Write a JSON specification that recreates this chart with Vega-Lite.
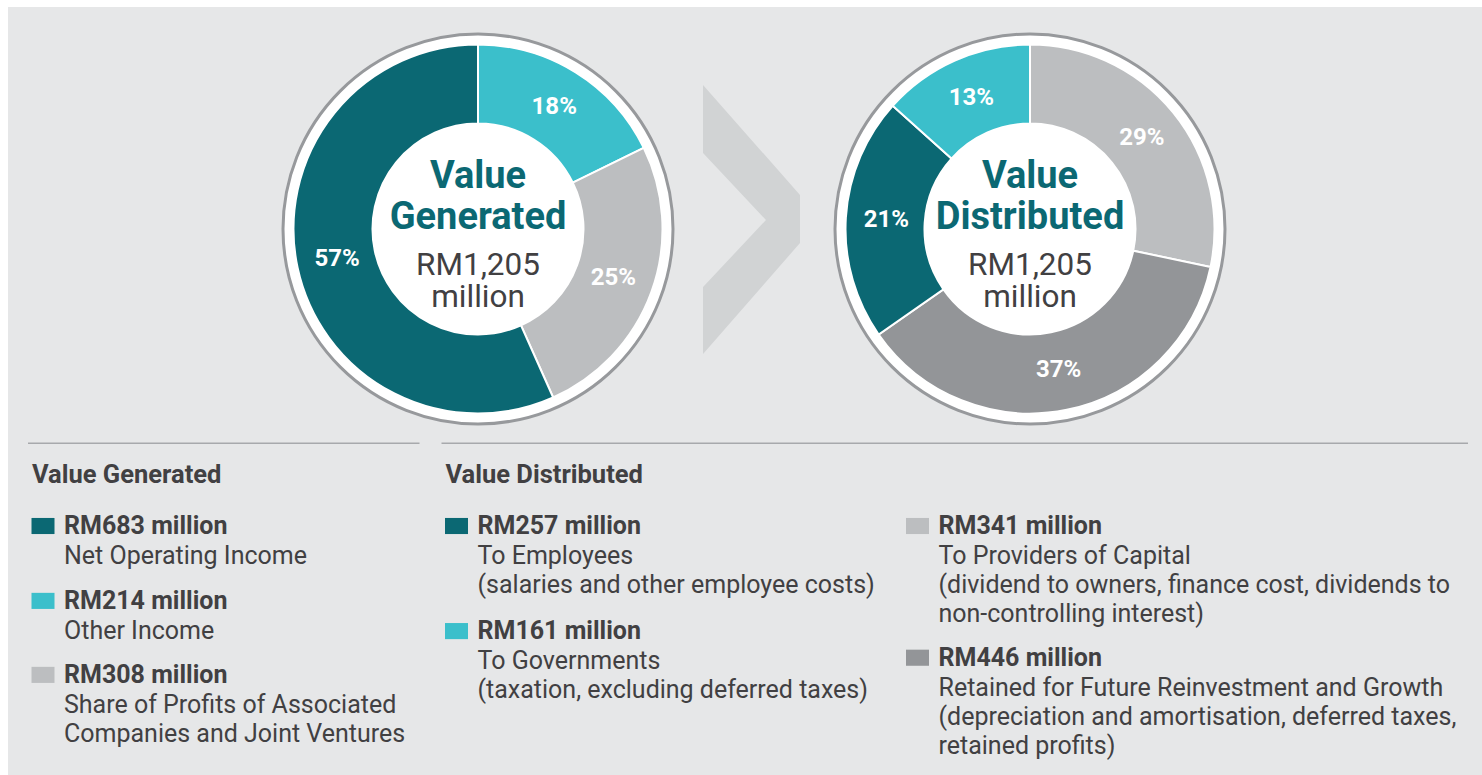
{
  "$schema": "https://vega.github.io/schema/vega-lite/v6.json",
  "width": 1482,
  "height": 775,
  "autosize": {"type": "fit", "contains": "padding"},
  "padding": {"left": 8, "top": 7, "right": 0, "bottom": 0},
  "background": "#ffffff",
  "config": {
    "view": {"fill": "#e6e7e8", "stroke": null},
    "font": "Roboto",
    "text": {"font": "Roboto"}
  },
  "datasets": {
    "segments": [
      {"chart": "Value Generated", "category": "Other Income", "value": 214, "ord": 1, "label": "18%"},
      {"chart": "Value Generated", "category": "Share of Profits of Associated Companies and Joint Ventures", "value": 308, "ord": 2, "label": "25%"},
      {"chart": "Value Generated", "category": "Net Operating Income", "value": 683, "ord": 3, "label": "57%"},
      {"chart": "Value Distributed", "category": "To Providers of Capital", "value": 341, "ord": 1, "label": "29%"},
      {"chart": "Value Distributed", "category": "Retained for Future Reinvestment and Growth", "value": 446, "ord": 2, "label": "37%"},
      {"chart": "Value Distributed", "category": "To Employees", "value": 257, "ord": 3, "label": "21%"},
      {"chart": "Value Distributed", "category": "To Governments", "value": 161, "ord": 4, "label": "13%"}
    ],
    "centers": [
      {"chart": "Value Generated", "title": "Value\nGenerated", "amount": "RM1,205\nmillion"},
      {"chart": "Value Distributed", "title": "Value\nDistributed", "amount": "RM1,205\nmillion"}
    ],
    "arrow": [{"chart": "arrow"}],
    "items": [
      {"column": 1, "line": 0, "category": "Net Operating Income", "amount": "RM683 million", "desc": "Net Operating Income"},
      {"column": 1, "line": 2.53, "category": "Other Income", "amount": "RM214 million", "desc": "Other Income"},
      {"column": 1, "line": 5.03, "category": "Share of Profits of Associated Companies and Joint Ventures", "amount": "RM308 million", "desc": "Share of Profits of Associated\nCompanies and Joint Ventures"},
      {"column": 2, "line": 0, "category": "To Employees", "amount": "RM257 million", "desc": "To Employees\n(salaries and other employee costs)"},
      {"column": 2, "line": 3.55, "category": "To Governments", "amount": "RM161 million", "desc": "To Governments\n(taxation, excluding deferred taxes)"},
      {"column": 3, "line": 0, "category": "To Providers of Capital", "amount": "RM341 million", "desc": "To Providers of Capital\n(dividend to owners, finance cost, dividends to\nnon-controlling interest)"},
      {"column": 3, "line": 4.45, "category": "Retained for Future Reinvestment and Growth", "amount": "RM446 million", "desc": "Retained for Future Reinvestment and Growth\n(depreciation and amortisation, deferred taxes,\nretained profits)"}
    ],
    "headings": [
      {"column": 1, "line": -1.73, "heading": "Value Generated"},
      {"column": 2, "line": -1.73, "heading": "Value Distributed"}
    ],
    "rules": [
      {"from": 1, "to": 2, "line": -3.07},
      {"from": 2, "to": 4, "line": -3.07}
    ]
  },
  "layer": [
    {
      "encoding": {
        "x": {"field": "chart", "type": "nominal", "scale": {"type": "point", "domain": ["Value Generated", "arrow", "Value Distributed"], "range": [470, 1022], "padding": 0}, "axis": null},
        "y": {"field": "chart", "type": "nominal", "scale": {"type": "point", "domain": ["Value Generated", "arrow", "Value Distributed"], "range": [222, 222], "padding": 0}, "axis": null}
      },
      "layer": [
        {
          "data": {"name": "centers"},
          "mark": {"type": "point", "shape": "circle", "size": 152100, "filled": true, "fill": "#ffffff", "stroke": "#97999c", "strokeWidth": 3, "opacity": 1}
        },
        {
          "data": {"name": "arrow"},
          "mark": {"type": "point", "shape": "M-0.379,-1.071L0.342,-0.253L0.342,0.104L-0.379,0.929L-0.379,0.431L0.089,-0.067L-0.379,-0.565Z", "size": 72361, "filled": true, "fill": "#d1d3d4", "strokeWidth": 0, "opacity": 1}
        },
        {
          "data": {"name": "segments"},
          "transform": [{"filter": "datum.chart === 'Value Generated'"}],
          "encoding": {
            "theta": {"field": "value", "type": "quantitative", "stack": true},
            "order": {"field": "ord", "type": "quantitative"}
          },
          "layer": [
            {
              "mark": {"type": "arc", "innerRadius": 105.5, "outerRadius": 184.5, "stroke": "#ffffff", "strokeWidth": 2},
              "encoding": {
                "color": {"field": "category", "type": "nominal", "legend": null,
                  "scale": {"domain": ["Net Operating Income", "Other Income", "Share of Profits of Associated Companies and Joint Ventures", "To Employees", "To Governments", "To Providers of Capital", "Retained for Future Reinvestment and Growth"],
                            "range": ["#0b6873", "#3bbfcb", "#bcbec0", "#0b6873", "#3bbfcb", "#bcbec0", "#939598"]}}
              }
            },
            {
              "mark": {"type": "text", "radius": 144, "fontSize": 24, "fontWeight": "bold", "fill": "#ffffff", "align": "center", "baseline": "middle"},
              "encoding": {
                "text": {"field": "label"},
                "detail": {"field": "category"}
              }
            }
          ]
        },
        {
          "data": {"name": "segments"},
          "transform": [{"filter": "datum.chart === 'Value Distributed'"}],
          "encoding": {
            "theta": {"field": "value", "type": "quantitative", "stack": true},
            "order": {"field": "ord", "type": "quantitative"}
          },
          "layer": [
            {
              "mark": {"type": "arc", "innerRadius": 105.5, "outerRadius": 184.5, "stroke": "#ffffff", "strokeWidth": 2},
              "encoding": {
                "color": {"field": "category", "type": "nominal", "legend": null,
                  "scale": {"domain": ["Net Operating Income", "Other Income", "Share of Profits of Associated Companies and Joint Ventures", "To Employees", "To Governments", "To Providers of Capital", "Retained for Future Reinvestment and Growth"],
                            "range": ["#0b6873", "#3bbfcb", "#bcbec0", "#0b6873", "#3bbfcb", "#bcbec0", "#939598"]}}
              }
            },
            {
              "mark": {"type": "text", "radius": 144, "fontSize": 24, "fontWeight": "bold", "fill": "#ffffff", "align": "center", "baseline": "middle"},
              "encoding": {
                "text": {"field": "label"},
                "detail": {"field": "category"}
              }
            }
          ]
        },
        {
          "data": {"name": "centers"},
          "mark": {"type": "text", "lineBreak": "\n", "align": "center", "baseline": "alphabetic", "fontSize": 38, "fontWeight": "bold", "fill": "#0b6873", "lineHeight": 41, "dy": -41},
          "encoding": {"text": {"field": "title"}}
        },
        {
          "data": {"name": "centers"},
          "mark": {"type": "text", "lineBreak": "\n", "align": "center", "baseline": "alphabetic", "fontSize": 31.5, "fill": "#414042", "lineHeight": 32, "dy": 46},
          "encoding": {"text": {"field": "amount"}}
        }
      ]
    },
    {
      "encoding": {
        "x": {"field": "column", "type": "quantitative", "scale": {"domain": [1, 2, 3, 4], "range": [56, 469.5, 930.5, 1518], "zero": false, "nice": false}, "axis": null},
        "y": {"field": "line", "type": "quantitative", "scale": {"domain": [0, 10], "range": [527, 823], "zero": false, "nice": false}, "axis": null}
      },
      "layer": [
        {
          "data": {"name": "rules"},
          "mark": {"type": "rule", "color": "#a7a9ac", "strokeWidth": 1.5, "xOffset": -36, "x2Offset": -58},
          "encoding": {
            "x": {"field": "from", "type": "quantitative", "scale": {"domain": [1, 2, 3, 4], "range": [56, 469.5, 930.5, 1518], "zero": false, "nice": false}, "axis": null},
            "x2": {"field": "to"}
          }
        },
        {
          "data": {"name": "headings"},
          "mark": {"type": "text", "align": "left", "baseline": "alphabetic", "fontSize": 25.5, "fontWeight": "bold", "fill": "#414042", "dx": -32},
          "encoding": {"text": {"field": "heading"}}
        },
        {
          "data": {"name": "items"},
          "mark": {"type": "point", "shape": "M-1,-0.7L1,-0.7L1,0.7L-1,0.7Z", "size": 529, "filled": true, "opacity": 1, "strokeWidth": 0, "xOffset": -21, "yOffset": -8},
          "encoding": {
            "color": {"field": "category", "type": "nominal", "legend": null,
              "scale": {"domain": ["Net Operating Income", "Other Income", "Share of Profits of Associated Companies and Joint Ventures", "To Employees", "To Governments", "To Providers of Capital", "Retained for Future Reinvestment and Growth"],
                        "range": ["#0b6873", "#3bbfcb", "#bcbec0", "#0b6873", "#3bbfcb", "#bcbec0", "#939598"]}}
          }
        },
        {
          "data": {"name": "items"},
          "mark": {"type": "text", "align": "left", "baseline": "alphabetic", "fontSize": 25, "fontWeight": "bold", "fill": "#414042"},
          "encoding": {"text": {"field": "amount"}}
        },
        {
          "data": {"name": "items"},
          "mark": {"type": "text", "align": "left", "baseline": "alphabetic", "fontSize": 25, "fill": "#414042", "lineBreak": "\n", "lineHeight": 29.3, "dy": 29.8},
          "encoding": {"text": {"field": "desc"}}
        }
      ]
    }
  ],
  "resolve": {"scale": {"x": "independent", "y": "independent"}}
}
